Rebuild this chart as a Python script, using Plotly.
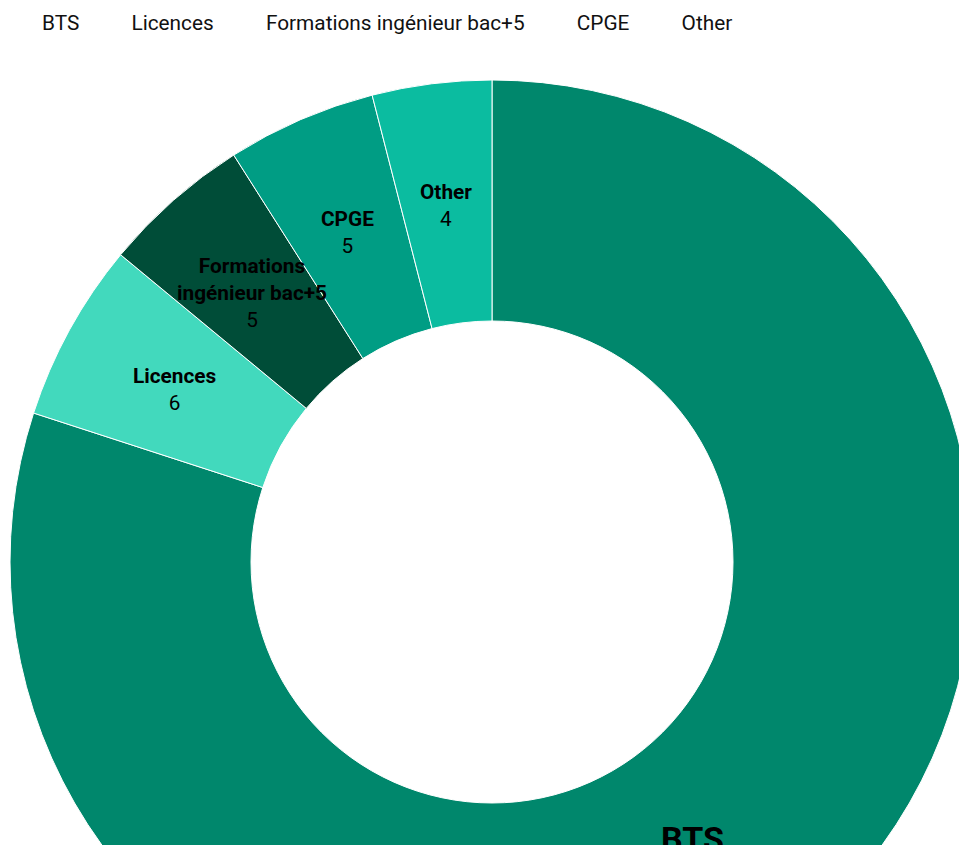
import math
import plotly.graph_objects as go

categories = ["BTS", "Licences", "Formations ingénieur bac+5", "CPGE", "Other"]
values = [80, 6, 5, 5, 4]
label_lines = ["BTS", "Licences", "Formations<br>ingénieur bac+5", "CPGE", "Other"]
colors = ["#00876c", "#42d9bd", "#004d38", "#009d84", "#0bbca0"]

HOLE = 0.5
FONT = "Roboto, 'Open Sans', sans-serif"
W, H = 984, 1124
ML, MR, MT, MB = 10, 10, 80, 80
SMALL = 20.8
BIG = 34
# style tweaks for the big slice label
big_style = dict(size=BIG, xshift=-12, yshift=-7)
small_style = dict(size=SMALL, xshift=-1, yshift=-2)

fig = go.Figure()

fig.add_trace(go.Pie(
    labels=categories,
    values=values,
    hole=HOLE,
    sort=False,
    direction="clockwise",
    rotation=0,
    marker=dict(colors=colors, line=dict(color="white", width=1)),
    textinfo="none",
    hoverinfo="label+value",
    showlegend=False,
    domain=dict(x=[0, 1], y=[0, 1]),
))

# hidden axes spanning the pie: unit = outer radius
fig.add_trace(go.Scatter(x=[-1, 1], y=[-1, 1], mode="markers",
                         marker=dict(opacity=0), hoverinfo="skip", showlegend=False))

# label positions derived from the values (angular mid, radial mid of ring)
total = sum(values)
cum = 0.0
annotations = []
for i, (lab, v) in enumerate(zip(label_lines, values)):
    mid = (cum + v / 2) / total * 2 * math.pi
    r = (HOLE + 1) / 2
    st = big_style if i == 0 else small_style
    annotations.append(dict(
        x=r * math.sin(mid), y=r * math.cos(mid), xref="x", yref="y",
        text=f"<b>{lab}</b><br>{v}", showarrow=False,
        font=dict(size=st["size"], color="black", family=FONT),
        xshift=st["xshift"], yshift=st["yshift"],
        xanchor="center", yanchor="middle", align="center",
    ))
    cum += v

# legend entries (text only)
for c in categories:
    fig.add_trace(go.Scatter(
        x=[None], y=[None], mode="markers", name=c + "\u00a0",
        marker=dict(color="rgba(0,0,0,0)", size=1),
        showlegend=True,
    ))

fig.update_layout(
    width=W,
    height=H,
    margin=dict(l=ML, r=MR, t=MT, b=MB),
    paper_bgcolor="white",
    plot_bgcolor="rgba(0,0,0,0)",
    font=dict(family=FONT, size=SMALL, color="#111111"),
    xaxis=dict(range=[-1, 1], visible=False, fixedrange=True),
    yaxis=dict(range=[-1, 1], visible=False, fixedrange=True),
    annotations=annotations,
    legend=dict(
        orientation="h",
        xref="container", yref="container",
        x=0, y=1 - 2 / H, xanchor="left", yanchor="top",
        font=dict(size=SMALL, family=FONT, color="#111111"),
        itemwidth=32,
    ),
    showlegend=True,
)

fig.write_html("out.html")
